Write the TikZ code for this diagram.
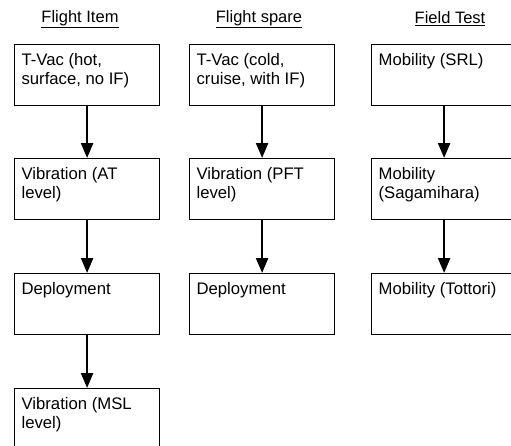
\documentclass[tikz,border=0pt]{standalone}
\usepackage{fontspec}
\setmainfont{Liberation Sans}
\usetikzlibrary{arrows.meta}

\tikzset{
  stepbox/.style={draw, line width=1.2pt, anchor=north west, inner xsep=7pt,
    inner ysep=9pt, font=\fontsize{16.7}{19}\selectfont},
  flow/.style={line width=2.4pt, -{Triangle[width=12pt,length=15pt]}},
  heading/.style={font=\fontsize{16.5}{18}\selectfont, inner sep=0pt}
}
\newcommand{\steptext}[1]{\parbox[c][43pt][t]{131pt}{\raggedright #1}}

\begin{document}
\begin{tikzpicture}[x=1pt,y=-1pt]
  \clip (0,0) rectangle (511,445);

  \def\colA{14}
  \def\colB{189}
  \def\colC{371}

  % headings
  \node[heading] (headA) at (80,19) {\underline{Flight Item}};
  \node[heading] (headB) at (259,19) {\underline{Flight spare}};
  \node[heading] (headC) at (450,19) {\underline{Field Test}};

  % flight item
  \node[stepbox] (a1) at (\colA,44)  {\steptext{T-Vac (hot,\\surface, no IF)}};
  \node[stepbox] (a2) at (\colA,158) {\steptext{Vibration (AT\\level)}};
  \node[stepbox] (a3) at (\colA,273) {\steptext{Deployment}};
  \node[stepbox] (a4) at (\colA,388) {\steptext{Vibration (MSL\\level)}};

  \draw[flow] (a1) -- (a2);
  \draw[flow] (a2) -- (a3);
  \draw[flow] (a3) -- (a4);

  % flight spare
  \node[stepbox] (b1) at (\colB,44)  {\steptext{T-Vac (cold,\\cruise, with IF)}};
  \node[stepbox] (b2) at (\colB,158) {\steptext{Vibration (PFT\\level)}};
  \node[stepbox] (b3) at (\colB,273) {\steptext{Deployment}};

  \draw[flow] (b1) -- (b2);
  \draw[flow] (b2) -- (b3);

  % field test
  \node[stepbox] (c1) at (\colC,44)  {\steptext{Mobility (SRL)}};
  \node[stepbox] (c2) at (\colC,158) {\steptext{Mobility\\(Sagamihara)}};
  \node[stepbox] (c3) at (\colC,273) {\steptext{Mobility (Tottori)}};

  \draw[flow] (c1) -- (c2);
  \draw[flow] (c2) -- (c3);
\end{tikzpicture}
\end{document}
